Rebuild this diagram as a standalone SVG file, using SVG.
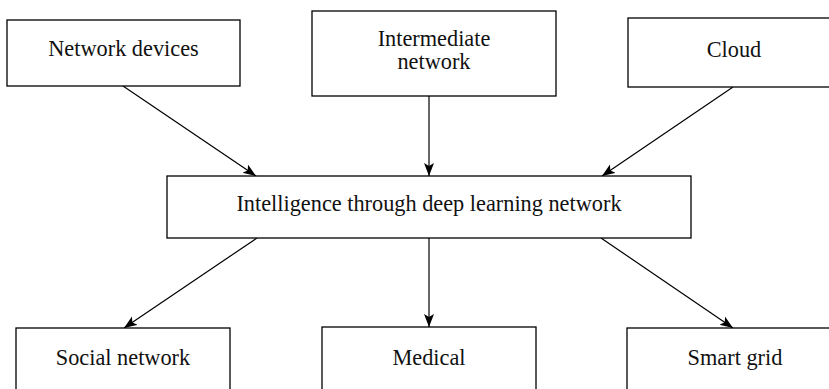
<svg xmlns="http://www.w3.org/2000/svg" width="829" height="389" viewBox="0 0 829 389">
  <style>
    .box { fill: #ffffff; stroke: #000000; stroke-width: 1.3; }
    .label { font-family: "Liberation Serif", "DejaVu Serif", serif; font-size: 22.3px; fill: #111111; text-anchor: middle; }
    .edge { stroke: #000000; stroke-width: 1.2; fill: none; marker-end: url(#arrow); }
  </style>
  <defs>
    <marker id="arrow" markerUnits="userSpaceOnUse" markerWidth="14" markerHeight="12" refX="13" refY="5" orient="auto">
      <path d="M0,0 L13,5 L0,10 L3,5 Z" fill="#000000"/>
    </marker>
  </defs>
  <rect x="0" y="0" width="829" height="389" fill="#ffffff"/>

  <g id="connectors">
    <line class="edge" x1="123" y1="86" x2="256" y2="176"/>
    <line class="edge" x1="429" y1="96" x2="429" y2="176"/>
    <line class="edge" x1="733" y1="87" x2="602" y2="176"/>
    <line class="edge" x1="257" y1="238" x2="124" y2="328"/>
    <line class="edge" x1="429" y1="238" x2="429" y2="327"/>
    <line class="edge" x1="601" y1="238" x2="733" y2="328"/>
  </g>

  <g id="network-devices">
    <rect class="box" x="7" y="20" width="233" height="66"/>
    <text class="label" x="123.5" y="56">Network devices</text>
  </g>

  <g id="intermediate-network">
    <rect class="box" x="312" y="11" width="244" height="85"/>
    <text class="label" x="434" y="46">Intermediate</text>
    <text class="label" x="434" y="69">network</text>
  </g>

  <g id="cloud">
    <rect class="box" x="628" y="18" width="214" height="69"/>
    <text class="label" x="734" y="57">Cloud</text>
  </g>

  <g id="intelligence">
    <rect class="box" x="167" y="176" width="524" height="62"/>
    <text class="label" x="429" y="211">Intelligence through deep learning network</text>
  </g>

  <g id="social-network">
    <rect class="box" x="16" y="328" width="214" height="70"/>
    <text class="label" x="123" y="365">Social network</text>
  </g>

  <g id="medical">
    <rect class="box" x="322" y="327" width="214" height="70"/>
    <text class="label" x="429" y="365">Medical</text>
  </g>

  <g id="smart-grid">
    <rect class="box" x="627" y="328" width="216" height="70"/>
    <text class="label" x="735" y="365">Smart grid</text>
  </g>
</svg>
